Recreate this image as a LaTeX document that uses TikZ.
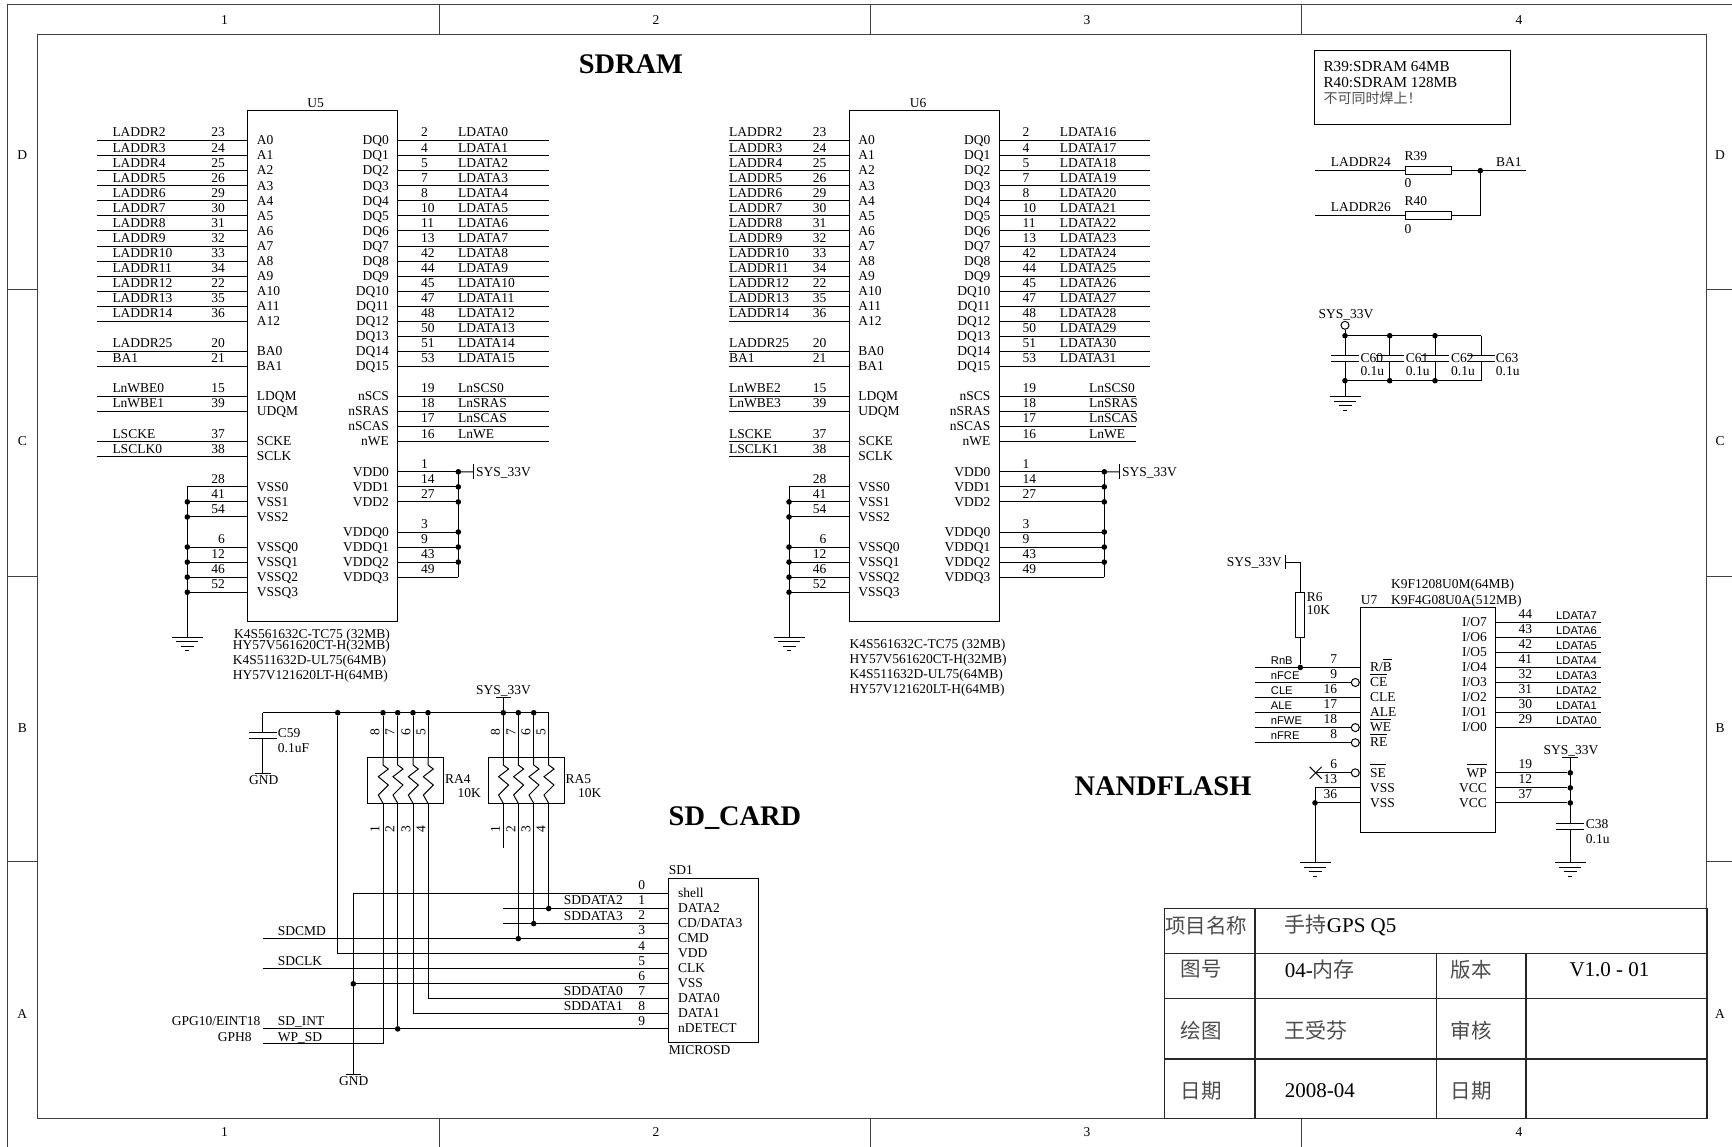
\documentclass[tikz,border=0pt]{standalone}
\usepackage{fontspec}
\setmainfont{Liberation Serif}
\newfontfamily\cjk{Noto Sans CJK SC}
\newfontfamily\arialfont{Liberation Sans}
\usetikzlibrary{positioning}
\newcommand{\ovl}[1]{\setbox0\hbox{#1}\rlap{\rule[11.8pt]{\wd0}{0.9pt}}\box0}
\tikzstyle{wire} = [draw, line width=1pt]
\tikzstyle{frame} = [draw, line width=1pt, color=black!75]
\tikzstyle{grid} = [draw, line width=1.2pt, color=black!85]
\tikzstyle{chip} = [draw, line width=1pt, rectangle, inner sep=0pt]
\tikzstyle{lbl} = [inner sep=0pt, anchor=base west]
\tikzstyle{lblr} = [inner sep=0pt, anchor=base east]
\tikzstyle{lblc} = [inner sep=0pt, anchor=base]
\tikzstyle{sig} = [lbl, font=\arialfont\fontsize{11.2}{13}\selectfont]
\tikzstyle{rotnum} = [inner sep=0pt, rotate=90]
\tikzstyle{title} = [inner sep=0pt, font=\fontsize{28.4}{30}\selectfont\bfseries]
\tikzstyle{tcell} = [inner sep=0pt, font=\fontsize{21}{24}\selectfont]
\tikzstyle{tleft} = [tcell, anchor=west]
\tikzstyle{tcjk} = [inner sep=0pt, text=black!70, font=\cjk\fontsize{20.5}{24}\selectfont]
\tikzstyle{jdot} = [circle, fill=black, inner sep=0pt, minimum size=5.6pt]
\tikzstyle{bubble} = [circle, draw, line width=1pt, fill=white, inner sep=0pt, minimum size=8pt]
\tikzset{
  gnd/.pic={
    \path[wire] (-15.5,0) -- (15.5,0);
    \path[wire] (-11,4.7) -- (11,4.7);
    \path[wire] (-6.5,9) -- (6.5,9);
    \path[wire] (-2,13.7) -- (2,13.7);
  },
  capplates/.pic={
    \path[wire] (-14,0) -- (14,0);
    \path[wire] (-14,6) -- (14,6);
  },
  zig/.pic={
    \path[wire] (0,0) -- (0,7.3) -- (5.3,11.3) -- (-4.7,19) -- (5.3,27.3) -- (-4.7,37.3) -- (0,45.6);
  }
}

\begin{document}
\begin{tikzpicture}[x=1pt, y=-1pt, every node/.style={font=\fontsize{13.5}{15}\selectfont}]
\useasboundingbox (0,0) rectangle (1732,1147);

% border =============================
\path[frame] (7.3,1147) -- (7.3,5) -- (1732,5);
\path[frame] (37.7,35) rectangle (1706.8,1118.5);
\foreach \x in {439,870.4,1301.5} {
  \path[frame] (\x,5) -- (\x,35);
  \path[frame] (\x,1118.5) -- (\x,1147);
}
\foreach \yy in {290,576.6,861.6} {
  \path[frame] (7.3,\yy) -- (37.7,\yy);
  \path[frame] (1706.8,\yy) -- (1732,\yy);
}
\foreach \x/\t in {224.5/1,656/2,1087/3,1519/4} {
  \node[lblc] (top\t) at (\x,24.5) {\t};
  \node[lblc] (bot\t) at (\x,1136) {\t};
}
\foreach \yy/\t in {160/D,445.5/C,732/B,1018.5/A} {
  \node[lblc] (lft\t) at (22.3,\yy) {\t};
  \node[lblc] (rgt\t) at (1720,\yy) {\t};
}

% titles
\node[title] (tsdram) at (631,64) {SDRAM};
\node[title] (tsdcard) at (735,818) {SD\_CARD};
\node[title] (tnand) at (1163,786.5) {NANDFLASH};

% U5 =============================
\node[chip, minimum width=149.5pt, minimum height=511pt] (u5) at (322.25,366.2) {};
\node[lblc] (u5name) at (315.7,107.3) {U5};

% left pins
\foreach \n/\pinlab/\sgn/\num in {0/A0/LADDR2/23,1/A1/LADDR3/24,2/A2/LADDR4/25,3/A3/LADDR5/26,4/A4/LADDR6/29,5/A5/LADDR7/30,6/A6/LADDR8/31,7/A7/LADDR9/32,8/A8/LADDR10/33,9/A9/LADDR11/34,10/A10/LADDR12/22,11/A11/LADDR13/35,12/A12/LADDR14/36,14/BA0/LADDR25/20,15/BA1/BA1/21,17/LDQM/LnWBE0/15,18/UDQM/LnWBE1/39,20/SCKE/LSCKE/37,21/SCLK/LSCLK0/38} {
  \pgfmathsetmacro\yy{140.7+15.05*\n}
  \coordinate (u5w\n) at (96.7,\yy);
  \coordinate (u5l\n) at (247.5,\yy);
  \path[wire] (u5w\n) -- (u5l\n);
  \node[lbl] (u5s\n) at (112.3,\yy-3.7) {\sgn};
  \node[lblr] (u5n\n) at (225,\yy-3.7) {\num};
  \node[lbl] (u5a\n) at (256.7,\yy+4.2) {\pinlab};
}
% right pins
\foreach \n/\pinlab/\sgn/\num in {0/DQ0/LDATA0/2,1/DQ1/LDATA1/4,2/DQ2/LDATA2/5,3/DQ3/LDATA3/7,4/DQ4/LDATA4/8,5/DQ5/LDATA5/10,6/DQ6/LDATA6/11,7/DQ7/LDATA7/13,8/DQ8/LDATA8/42,9/DQ9/LDATA9/44,10/DQ10/LDATA10/45,11/DQ11/LDATA11/47,12/DQ12/LDATA12/48,13/DQ13/LDATA13/50,14/DQ14/LDATA14/51,15/DQ15/LDATA15/53,17/nSCS/LnSCS0/19,18/nSRAS/LnSRAS/18,19/nSCAS/LnSCAS/17,20/nWE/LnWE/16} {
  \pgfmathsetmacro\yy{140.7+15.05*\n}
  \coordinate (u5r\n) at (397,\yy);
  \coordinate (u5e\n) at (549,\yy);
  \path[wire] (u5r\n) -- (u5e\n);
  \node[lbl] (u5t\n) at (458,\yy-3.7) {\sgn};
  \node[lbl] (u5m\n) at (421,\yy-3.7) {\num};
  \node[lblr] (u5b\n) at (389,\yy+4.2) {\pinlab};
}
% ground pins
\coordinate (u5gtop) at (187.3,486.85);
\coordinate (u5gnd) at (187.3,637);
\path[wire] (u5gtop) -- (u5gnd);
\pic at (u5gnd) {gnd};
\foreach \n/\pinlab/\num/\dotted in {23/VSS0/28/0,24/VSS1/41/1,25/VSS2/54/1,27/VSSQ0/6/1,28/VSSQ1/12/1,29/VSSQ2/46/1,30/VSSQ3/52/1} {
  \pgfmathsetmacro\yy{140.7+15.05*\n}
  \coordinate (u5g\n) at (187.3,\yy);
  \coordinate (u5l\n) at (247.5,\yy);
  \path[wire] (u5g\n) -- (u5l\n);
  \node[lblr] (u5n\n) at (225,\yy-3.7) {\num};
  \node[lbl] (u5a\n) at (256.7,\yy+4.2) {\pinlab};
  \ifnum\dotted=1 \node[jdot] (u5d\n) at (u5g\n) {}; \fi
}
% power pins
\coordinate (u5vcc) at (473.7,471.8);
\path[wire] (473.7,464) -- (473.7,479.4);
\node[lbl] (u5sys) at (476,476) {SYS\_33V};
\foreach \n/\pinlab/\num/\dotted in {22/VDD0/1/1,23/VDD1/14/1,24/VDD2/27/1,26/VDDQ0/3/1,27/VDDQ1/9/1,28/VDDQ2/43/1,29/VDDQ3/49/0} {
  \pgfmathsetmacro\yy{140.7+15.05*\n}
  \coordinate (u5r\n) at (397,\yy);
  \coordinate (u5v\n) at (458.3,\yy);
  \path[wire] (u5r\n) -- (u5v\n);
  \node[lbl] (u5m\n) at (421,\yy-3.7) {\num};
  \node[lblr] (u5b\n) at (389,\yy+4.2) {\pinlab};
  \ifnum\dotted=1 \node[jdot] (u5c\n) at (u5v\n) {}; \fi
}
\path[wire] (u5v22) -- (u5v29);
\path[wire] (u5v22) -- (u5vcc);

% part numbers
\node[lbl] (u5p1) at (234,638) {K4S561632C-TC75 (32MB)};
\node[lbl] (u5p2) at (232.7,649) {HY57V561620CT-H(32MB)};
\node[lbl] (u5p3) at (232.7,664) {K4S511632D-UL75(64MB)};
\node[lbl] (u5p4) at (232.7,679) {HY57V121620LT-H(64MB)};

% U6 =============================
\node[chip, minimum width=150pt, minimum height=511pt] (u6) at (924,366.2) {};
\node[lblc] (u6name) at (918,107.3) {U6};

% left pins
\foreach \n/\pinlab/\sgn/\num in {0/A0/LADDR2/23,1/A1/LADDR3/24,2/A2/LADDR4/25,3/A3/LADDR5/26,4/A4/LADDR6/29,5/A5/LADDR7/30,6/A6/LADDR8/31,7/A7/LADDR9/32,8/A8/LADDR10/33,9/A9/LADDR11/34,10/A10/LADDR12/22,11/A11/LADDR13/35,12/A12/LADDR14/36,14/BA0/LADDR25/20,15/BA1/BA1/21,17/LDQM/LnWBE2/15,18/UDQM/LnWBE3/39,20/SCKE/LSCKE/37,21/SCLK/LSCLK1/38} {
  \pgfmathsetmacro\yy{140.7+15.05*\n}
  \coordinate (u6w\n) at (729,\yy);
  \coordinate (u6l\n) at (849,\yy);
  \path[wire] (u6w\n) -- (u6l\n);
  \node[lbl] (u6s\n) at (729,\yy-3.7) {\sgn};
  \node[lblr] (u6n\n) at (826.5,\yy-3.7) {\num};
  \node[lbl] (u6a\n) at (858.2,\yy+4.2) {\pinlab};
}
% right pins
\foreach \n/\pinlab/\sgn/\num in {0/DQ0/LDATA16/2,1/DQ1/LDATA17/4,2/DQ2/LDATA18/5,3/DQ3/LDATA19/7,4/DQ4/LDATA20/8,5/DQ5/LDATA21/10,6/DQ6/LDATA22/11,7/DQ7/LDATA23/13,8/DQ8/LDATA24/42,9/DQ9/LDATA25/44,10/DQ10/LDATA26/45,11/DQ11/LDATA27/47,12/DQ12/LDATA28/48,13/DQ13/LDATA29/50,14/DQ14/LDATA30/51,15/DQ15/LDATA31/53} {
  \pgfmathsetmacro\yy{140.7+15.05*\n}
  \coordinate (u6r\n) at (999,\yy);
  \coordinate (u6e\n) at (1150,\yy);
  \path[wire] (u6r\n) -- (u6e\n);
  \node[lbl] (u6t\n) at (1059.6,\yy-3.7) {\sgn};
  \node[lbl] (u6m\n) at (1022.5,\yy-3.7) {\num};
  \node[lblr] (u6b\n) at (990.5,\yy+4.2) {\pinlab};
}
\foreach \n/\pinlab/\sgn/\num in {17/nSCS/LnSCS0/19,18/nSRAS/LnSRAS/18,19/nSCAS/LnSCAS/17,20/nWE/LnWE/16} {
  \pgfmathsetmacro\yy{140.7+15.05*\n}
  \coordinate (u6r\n) at (999,\yy);
  \coordinate (u6e\n) at (1135.5,\yy);
  \path[wire] (u6r\n) -- (u6e\n);
  \node[lbl] (u6t\n) at (1089,\yy-3.7) {\sgn};
  \node[lbl] (u6m\n) at (1022.5,\yy-3.7) {\num};
  \node[lblr] (u6b\n) at (990.5,\yy+4.2) {\pinlab};
}
% ground pins
\coordinate (u6gtop) at (789,486.85);
\coordinate (u6gnd) at (789,637);
\path[wire] (u6gtop) -- (u6gnd);
\pic at (u6gnd) {gnd};
\foreach \n/\pinlab/\num/\dotted in {23/VSS0/28/0,24/VSS1/41/1,25/VSS2/54/1,27/VSSQ0/6/1,28/VSSQ1/12/1,29/VSSQ2/46/1,30/VSSQ3/52/1} {
  \pgfmathsetmacro\yy{140.7+15.05*\n}
  \coordinate (u6g\n) at (789,\yy);
  \coordinate (u6l\n) at (849,\yy);
  \path[wire] (u6g\n) -- (u6l\n);
  \node[lblr] (u6n\n) at (826.5,\yy-3.7) {\num};
  \node[lbl] (u6a\n) at (858.2,\yy+4.2) {\pinlab};
  \ifnum\dotted=1 \node[jdot] (u6d\n) at (u6g\n) {}; \fi
}
% power pins
\coordinate (u6vcc) at (1119.3,471.8);
\path[wire] (1119.3,464) -- (1119.3,479.4);
\node[lbl] (u6sys) at (1122,476) {SYS\_33V};
\foreach \n/\pinlab/\num/\dotted in {22/VDD0/1/1,23/VDD1/14/1,24/VDD2/27/1,26/VDDQ0/3/1,27/VDDQ1/9/1,28/VDDQ2/43/1,29/VDDQ3/49/0} {
  \pgfmathsetmacro\yy{140.7+15.05*\n}
  \coordinate (u6r\n) at (999,\yy);
  \coordinate (u6v\n) at (1104.3,\yy);
  \path[wire] (u6r\n) -- (u6v\n);
  \node[lbl] (u6m\n) at (1022.5,\yy-3.7) {\num};
  \node[lblr] (u6b\n) at (990.5,\yy+4.2) {\pinlab};
  \ifnum\dotted=1 \node[jdot] (u6c\n) at (u6v\n) {}; \fi
}
\path[wire] (u6v22) -- (u6v29);
\path[wire] (u6v22) -- (u6vcc);

% part numbers
\node[lbl] (u6p1) at (849.5,648.3) {K4S561632C-TC75 (32MB)};
\node[lbl] (u6p2) at (849.5,663.3) {HY57V561620CT-H(32MB)};
\node[lbl] (u6p3) at (849.5,678.3) {K4S511632D-UL75(64MB)};
\node[lbl] (u6p4) at (849.5,693.3) {HY57V121620LT-H(64MB)};

% note and bank select =============================
\node[chip, minimum width=195.3pt, minimum height=73.6pt] (note) at (1412.6,87.5) {};
\node[lbl, font=\fontsize{15.2}{18}\selectfont] (note1) at (1323.3,71.8) {R39:SDRAM 64MB};
\node[lbl, font=\fontsize{15.2}{18}\selectfont] (note2) at (1323.3,87.8) {R40:SDRAM 128MB};
\node[lbl, font=\cjk\fontsize{14}{16}\selectfont, text=black!70] (note3) at (1323.3,104) {不可同时焊上！};

\node[chip, minimum width=46pt, minimum height=8.4pt] (r39) at (1428.3,170.7) {};
\node[chip, minimum width=46pt, minimum height=8.4pt] (r40) at (1428.3,215.3) {};
\coordinate (ladd24) at (1315,170.7);
\coordinate (ladd26) at (1315,215.3);
\coordinate (ba1end) at (1526,170.7);
\coordinate (ba1j) at (1480.3,170.7);
\coordinate (r40j) at (1480.3,215.3);
\path[wire] (ladd24) -- (r39);
\path[wire] (ladd26) -- (r40);
\path[wire] (r39) -- (ba1end);
\path[wire] (r40) -- (r40j) -- (ba1j);
\node[jdot] (ba1dot) at (ba1j) {};
\node[lbl] (l24) at (1330.7,166.7) {LADDR24};
\node[lbl] (l26) at (1330.7,212) {LADDR26};
\node[lbl] (ba1lab) at (1496,166.7) {BA1};
\node[lbl] (r39lab) at (1404.3,160.7) {R39};
\node[lbl] (r39val) at (1404.3,187.3) {0};
\node[lbl] (r40lab) at (1404.3,205.7) {R40};
\node[lbl] (r40val) at (1404.3,233.3) {0};

% decoupling caps =============================
\node[lbl] (capsys) at (1318.3,318.3) {SYS\_33V};
\node[bubble] (capvcc) at (1345,325.3) {};
\coordinate (capgnd) at (1345,396.7);
\pic at (capgnd) {gnd};
\path[wire] (capvcc) -- (1345,356);
\path[wire] (1345,362) -- (capgnd);
\path[wire] (1345,335.7) -- (1481,335.7);
\path[wire] (1345,380.7) -- (1481,380.7);
\foreach \c/\x/\lx in {60/1345/1360.3,61/1389.7/1405.7,62/1435/1451,63/1481/1495.7} {
  \coordinate (c\c top) at (\x,335.7);
  \coordinate (c\c bot) at (\x,380.7);
  \path[wire] (c\c top) -- (\x,356);
  \path[wire] (\x,362) -- (c\c bot);
  \pic at (\x,356) {capplates};
  \node[lbl] (c\c lab) at (\lx,362.3) {C\c};
  \node[lbl] (c\c val) at (\lx,376) {0.1u};
}
\foreach \c in {60,61,62} {
  \node[jdot] (c\c dt) at (c\c top) {};
  \node[jdot] (c\c db) at (c\c bot) {};
}

% SD card =============================
\node[chip, minimum width=89.6pt, minimum height=164pt] (sd1) at (713.5,960.7) {};
\node[lbl] (sd1name) at (668.7,874.7) {SD1};
\node[lbl] (sd1part) at (668.7,1054.3) {MICROSD};
\foreach \n/\pinlab/\xs in {0/shell/353.3,1/DATA2/503.3,2/CD\slash DATA3/503.3,3/CMD/262.7,4/VDD/337.7,5/CLK/262.7,6/VSS/353.3,7/DATA0/428,8/DATA1/413,9/nDETECT/262.7} {
  \pgfmathsetmacro\yy{893.5+15.05*\n}
  \coordinate (sdw\n) at (\xs,\yy);
  \coordinate (sdp\n) at (668.7,\yy);
  \path[wire] (sdw\n) -- (sdp\n);
  \node[lblc] (sdn\n) at (641.7,\yy-3.7) {\n};
  \node[lbl] (sda\n) at (678,\yy+3.6) {\pinlab};
}
\node[lbl] (sddat2) at (563.7,904.7) {SDDATA2};
\node[lbl] (sddat3) at (563.7,920) {SDDATA3};
\node[lbl] (sddat0) at (563.7,995) {SDDATA0};
\node[lbl] (sddat1) at (563.7,1010) {SDDATA1};
\node[lbl] (sdcmd) at (277.7,935) {SDCMD};
\node[lbl] (sdclk) at (277.7,965.3) {SDCLK};
\node[lbl] (sdint) at (277.7,1025.3) {SD\_INT};
\node[lbl] (wpsd) at (277.7,1041) {WP\_SD};
\node[lblr] (gpg) at (260.5,1025.3) {GPG10/EINT18};
\node[lbl] (gph) at (217.7,1041) {GPH8};

% WP wire
\coordinate (wpw) at (262.7,1043.7);
\coordinate (wpe) at (383,1043.7);
\path[wire] (wpw) -- (wpe);

% pull ups
\coordinate (rail0) at (262.7,712.7);
\coordinate (rail1) at (548.7,712.7);
\path[wire] (rail0) -- (rail1);
\coordinate (c59a) at (262.7,732);
\coordinate (c59b) at (262.7,738);
\coordinate (c59g) at (262.7,773.3);
\path[wire] (rail0) -- (c59a);
\path[wire] (c59b) -- (c59g);
\pic at (c59a) {capplates};
\path[wire] (255,773.3) -- (270.7,773.3);
\node[lblc] (c59gnd) at (263.7,784.3) {GND};
\node[lbl] (c59lab) at (277.7,737.7) {C59};
\node[lbl] (c59val) at (277.7,752.7) {0.1uF};

\node[jdot] (vdddot) at (337.7,712.7) {};
\path[wire] (vdddot) -- (sdw4);

% RA4
\node[chip, minimum width=76pt, minimum height=45.6pt] (ra4) at (405.7,780.5) {};
\node[lbl] (ra4lab) at (445,783.3) {RA4};
\node[lbl] (ra4val) at (457.3,797.3) {10K};
\foreach \i/\x/\tx/\t/\b in {1/383/375/8/1,2/397.7/390/7/2,3/413/406/6/3,4/428/421/5/4} {
  \node[jdot] (ra4d\i) at (\x,712.7) {};
  \coordinate (ra4u\i) at (\x,757.7);
  \coordinate (ra4l\i) at (\x,803.3);
  \path[wire] (ra4d\i) -- (ra4u\i);
  \pic at (ra4u\i) {zig};
  \node[rotnum] (ra4t\i) at (\tx,731.7) {\t};
  \node[rotnum] (ra4b\i) at (\tx,829.3) {\b};
}
\path[wire] (ra4l1) -- (wpe);
\node[jdot] (intdot) at (397.7,1028.9) {};
\path[wire] (ra4l2) -- (intdot);
\path[wire] (ra4l3) -- (sdw8);
\path[wire] (ra4l4) -- (sdw7);

% RA5
\node[chip, minimum width=75.7pt, minimum height=45.6pt] (ra5) at (526.2,780.5) {};
\node[lbl] (ra5lab) at (565.3,783.3) {RA5};
\node[lbl] (ra5val) at (578,797.3) {10K};
\foreach \i/\x/\tx/\t/\b in {1/503.3/495.5/8/1,2/518.3/511/7/2,3/533.7/526/6/3,4/548.7/541/5/4} {
  \coordinate (ra5r\i) at (\x,712.7);
  \coordinate (ra5u\i) at (\x,757.7);
  \coordinate (ra5l\i) at (\x,803.3);
  \path[wire] (ra5r\i) -- (ra5u\i);
  \pic at (ra5u\i) {zig};
  \node[rotnum] (ra5t\i) at (\tx,731.7) {\t};
  \node[rotnum] (ra5b\i) at (\tx,829.3) {\b};
}
\foreach \i in {1,2,3} {
  \node[jdot] (ra5d\i) at (ra5r\i) {};
}
\node[jdot] (cmddot) at (518.3,938.65) {};
\node[jdot] (d3dot) at (533.7,923.6) {};
\node[jdot] (d2dot) at (548.7,908.55) {};
\coordinate (ra5free) at (503.3,848.3);
\path[wire] (ra5l1) -- (ra5free);
\path[wire] (ra5l2) -- (cmddot);
\path[wire] (ra5l3) -- (d3dot);
\path[wire] (ra5l4) -- (d2dot);
\coordinate (sysbar) at (503.3,697.7);
\path[wire] (ra5r1) -- (sysbar);
\path[wire] (495.7,697.7) -- (510.7,697.7);
\node[lbl] (rasys) at (476,694) {SYS\_33V};

% card ground
\coordinate (sdgnd) at (353.3,1074);
\path[wire] (sdw0) -- (sdgnd);
\path[wire] (345.5,1074) -- (361,1074);
\node[jdot] (sdgdot) at (sdw6) {};
\node[lblc] (sdgndlab) at (353.7,1085.7) {GND};

% U7 =============================
\node[chip, minimum width=134.3pt, minimum height=225pt] (u7) at (1427.85,719.8) {};
\node[lbl] (u7name) at (1360.7,604.7) {U7};
\node[lbl] (u7p1) at (1391,588.7) {K9F1208U0M(64MB)};
\node[lbl] (u7p2) at (1391,604) {K9F4G08U0A(512MB)};

% data pins
\foreach \n/\pinlab/\sgn/\num in {0/I\slash O7/LDATA7/44,1/I\slash O6/LDATA6/43,2/I\slash O5/LDATA5/42,3/I\slash O4/LDATA4/41,4/I\slash O3/LDATA3/32,5/I\slash O2/LDATA2/31,6/I\slash O1/LDATA1/30,7/I\slash O0/LDATA0/29} {
  \pgfmathsetmacro\yy{622.3+15.05*\n}
  \coordinate (u7r\n) at (1495,\yy);
  \coordinate (u7e\n) at (1600.7,\yy);
  \path[wire] (u7r\n) -- (u7e\n);
  \node[sig] (u7t\n) at (1556,\yy-3) {\sgn};
  \node[lbl] (u7m\n) at (1518.3,\yy-4) {\num};
  \node[lblr] (u7b\n) at (1487,\yy+4.2) {\pinlab};
}
% control pins
\foreach \n/\sgn/\num in {3/RnB/7,4/nFCE/9,5/CLE/16,6/ALE/17,7/nFWE/18,8/nFRE/8} {
  \pgfmathsetmacro\yy{622.3+15.05*\n}
  \coordinate (u7w\n) at (1254.7,\yy);
  \coordinate (u7l\n) at (1360.7,\yy);
  \path[wire] (u7w\n) -- (u7l\n);
  \node[sig] (u7s\n) at (1270.7,\yy-3) {\sgn};
  \node[lblr] (u7n\n) at (1337.3,\yy-4) {\num};
}
\node[lbl] (u7a3) at (1370,671.6) {R/\ovl{B}};
\node[lbl] (u7a4) at (1370,686.6) {\ovl{CE}};
\node[lbl] (u7a5) at (1370,701.7) {CLE};
\node[lbl] (u7a6) at (1370,716.7) {ALE};
\node[lbl] (u7a7) at (1370,731.8) {\ovl{WE}};
\node[lbl] (u7a8) at (1370,746.8) {\ovl{RE}};
\node[bubble] (bce) at (1355.3,682.5) {};
\node[bubble] (bwe) at (1355.3,727.6) {};
\node[bubble] (bre) at (1355.3,742.7) {};

% not connected pin
\node[bubble] (bse) at (1355.3,772.8) {};
\coordinate (secross) at (1315.7,772.8);
\path[wire] (secross) -- (bse);
\path[wire] (1309.7,766.8) -- (1321.7,778.8);
\path[wire] (1309.7,778.8) -- (1321.7,766.8);
\node[lblr] (u7n10) at (1337.3,768.8) {6};
\node[lbl] (u7a10) at (1370,777) {\ovl{SE}};

% pull up
\node[chip, minimum width=9.3pt, minimum height=45pt] (r6) at (1300.3,614.8) {};
\coordinate (r6top) at (1300.3,562.3);
\coordinate (r6sys) at (1285,562.3);
\node[jdot] (r6dot) at (1300.3,667.45) {};
\path[wire] (r6sys) -- (r6top) -- (r6);
\path[wire] (r6) -- (r6dot);
\path[wire] (1285,555) -- (1285,569.4);
\node[lblr] (r6syslab) at (1281.7,566.5) {SYS\_33V};
\node[lbl] (r6lab) at (1306.7,601) {R6};
\node[lbl] (r6val) at (1306.7,614) {10K};

% ground pins
\coordinate (u7g11) at (1315,787.85);
\coordinate (u7g12) at (1315,802.9);
\coordinate (u7gnd) at (1315,862.7);
\coordinate (u7l11) at (1360.7,787.85);
\coordinate (u7l12) at (1360.7,802.9);
\path[wire] (u7l11) -- (u7g11) -- (u7gnd);
\path[wire] (u7g12) -- (u7l12);
\node[jdot] (u7gd) at (u7g12) {};
\pic at (u7gnd) {gnd};
\node[lblr] (u7n11) at (1337.3,783.8) {13};
\node[lblr] (u7n12) at (1337.3,798.9) {36};
\node[lbl] (u7a11) at (1370,792) {VSS};
\node[lbl] (u7a12) at (1370,807.1) {VSS};

% power pins
\foreach \n/\pinlab/\num in {10/\ovl{WP}/19,11/VCC/12,12/VCC/37} {
  \pgfmathsetmacro\yy{622.3+15.05*\n}
  \coordinate (u7r\n) at (1495,\yy);
  \node[jdot] (u7v\n) at (1570.3,\yy) {};
  \path[wire] (u7r\n) -- (u7v\n);
  \node[lbl] (u7m\n) at (1518.3,\yy-4) {\num};
  \node[lblr] (u7b\n) at (1487,\yy+4.2) {\pinlab};
}
\coordinate (c38top) at (1570.3,757.3);
\coordinate (c38a) at (1570.3,823.3);
\coordinate (c38b) at (1570.3,829);
\coordinate (c38g) at (1570.3,862.7);
\path[wire] (c38top) -- (c38a);
\path[wire] (c38b) -- (c38g);
\pic at (c38a) {capplates};
\pic at (c38g) {gnd};
\path[wire] (1562.3,757.3) -- (1578.3,757.3);
\node[lbl] (u7sys) at (1543.3,754) {SYS\_33V};
\node[lbl] (c38lab) at (1585.7,828.3) {C38};
\node[lbl] (c38val) at (1585.7,843) {0.1u};

% title block =============================
\path[grid] (1164.5,908.5) rectangle (1707,1118.5);
\path[grid] (1255,908.5) -- (1255,1118.5);
\path[grid] (1164.5,953.3) -- (1707,953.3);
\path[grid] (1164.5,998.5) -- (1707,998.5);
\path[grid] (1164.5,1059) -- (1707,1059);
\path[grid] (1436.5,953.3) -- (1436.5,1118.5);
\path[grid] (1526,953.3) -- (1526,1118.5);

\node[tcjk] (tname) at (1206,925.5) {项目名称};
\node[tleft] (tnameval) at (1284.7,925.5) {{\cjk\color{black!70}手持}GPS Q5};
\node[tcjk] (tno) at (1201,969.5) {图号};
\node[tleft] (tnoval) at (1284.7,969.5) {04-{\cjk\color{black!70}内存}};
\node[tcjk] (tver) at (1471,969.5) {版本};
\node[tcell] (tverval) at (1609.5,969.5) {V1.0 - 01};
\node[tcjk] (tdraw) at (1201,1030.5) {绘图};
\node[tleft] (tdrawval) at (1284.7,1030.5) {{\cjk\color{black!70}王受芬}};
\node[tcjk] (tchk) at (1471,1030.5) {审核};
\node[tcjk] (tdate) at (1201,1090.5) {日期};
\node[tleft] (tdateval) at (1284.7,1090.5) {2008-04};
\node[tcjk] (tdate2) at (1471,1090.5) {日期};

\end{tikzpicture}
\end{document}
